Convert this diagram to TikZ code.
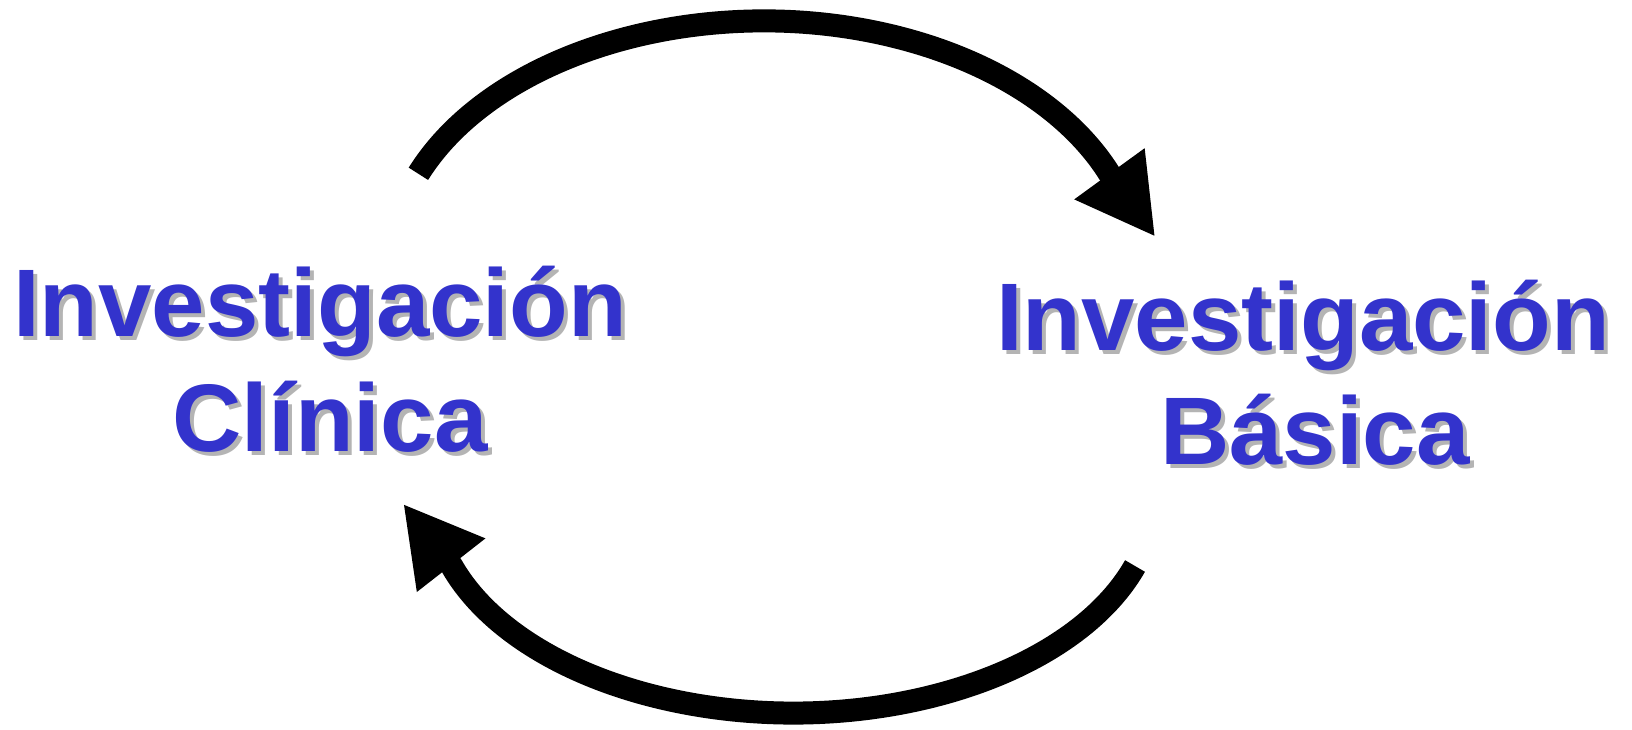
\documentclass[tikz,border=0pt]{standalone}
\usepackage{fontspec}
\setmainfont{Liberation Sans}
\usetikzlibrary{arrows.meta}
\definecolor{txtblue}{HTML}{3333CC}
\definecolor{shgray}{HTML}{B4B4B4}
\newfontfamily\bigfont{Liberation Sans}[Scale=1]
\tikzset{
  lbl/.style={anchor=base, inner sep=0pt, text=txtblue, font=\bigfont\bfseries\fontsize{96pt}{115pt}\selectfont},
  lblsh/.style={lbl, text=shgray},
  bigarrow/.style={line width=23pt, line join=round, -{Triangle[length=78pt, width=81pt]}}
}
\begin{document}
\begin{tikzpicture}[x=1pt, y=1pt]
\useasboundingbox (0,0) rectangle (1632,730);
% shadows
\node[lblsh] (clinAs) at (324,389) {Investigación};
\node[lblsh] (clinBs) at (334,274) {Clínica};
\node[lblsh] (basAs) at (1307,375) {Investigación};
\node[lblsh] (basBs) at (1319,261) {Básica};
% text
\node[lbl] (clinA) at (320,393) {Investigación};
\node[lbl] (clinB) at (330,278) {Clínica};
\node[lbl] (basA) at (1303,379) {Investigación};
\node[lbl] (basB) at (1315,265) {Básica};
% arrows
\coordinate (t0) at (418.4,556.2);
\coordinate (b0) at (1135,164);
\draw[bigarrow] (t0) arc[start angle=157.5, end angle=22.5, x radius=374, y radius=247.6] coordinate (t1) -- ++(-54:78) coordinate (t2);
\draw[bigarrow] (b0) arc[start angle=-19, end angle=-161, x radius=361.3, y radius=218] coordinate (b1) -- ++(128:79) coordinate (b2);
\end{tikzpicture}
\end{document}
